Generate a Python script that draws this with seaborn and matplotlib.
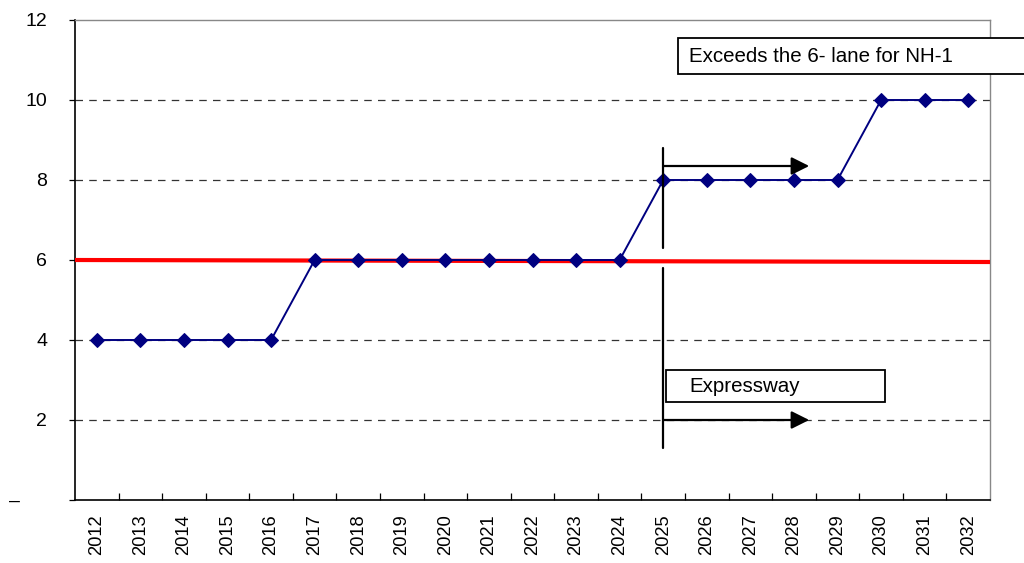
import matplotlib
matplotlib.use("Agg")
import matplotlib.pyplot as plt
from matplotlib.patches import Rectangle
import seaborn as sns
import pandas as pd
import numpy as np

# Lane requirement by year
years = list(range(2012, 2033))
lanes = [4, 4, 4, 4, 4, 6, 6, 6, 6, 6, 6, 6, 6, 8, 8, 8, 8, 8, 10, 10, 10]

# 6-lane capacity line (left end, right end)
capacity_x = [2011.5, 2032.5]
capacity_y = [6.0, 5.95]

# Phase boundary and horizon arrows
phase_year = 2025
arrow_end_year = 2028.35
upper_arrow_y = 8.35
lower_arrow_y = 2.0
upper_bar = [6.3, 8.8]
lower_bar = [1.3, 5.8]

y_ticks = [0, 2, 4, 6, 8, 10, 12]
y_labels = ["–     ", "2", "4", "6", "8", "10", "12"]

df = pd.DataFrame({"year": years, "lanes": lanes})

sns.set_theme(style="white")
plt.rcParams["font.family"] = ["Liberation Sans", "DejaVu Sans"]
plt.rcParams["text.color"] = "black"
plt.rcParams["xtick.color"] = "black"
plt.rcParams["ytick.color"] = "black"

fig = plt.figure(figsize=(10.24, 5.63), dpi=100)
ax = fig.add_axes([75 / 1024, 1 - 500 / 563, 915 / 1024, 480 / 563])

# Dashed horizontal grid
for y in [2, 4, 8, 10]:
    ax.axhline(y, color="#333333", lw=0.9, ls=(0, (6, 5)), zorder=1)

sns.lineplot(data=df, x="year", y="lanes", ax=ax, color="#000080", lw=1.4,
             marker="D", markersize=7, markeredgecolor="#000080", zorder=4)

ax.plot(capacity_x, capacity_y, color="#ff0000", lw=3, zorder=3)

# Phase boundary bars
ax.plot([phase_year, phase_year], upper_bar, color="black", lw=1.6, zorder=5)
ax.plot([phase_year, phase_year], lower_bar, color="black", lw=1.6, zorder=5)

for ay in [upper_arrow_y, lower_arrow_y]:
    ax.annotate("", xy=(arrow_end_year, ay), xytext=(phase_year, ay),
                arrowprops=dict(arrowstyle="-|>,head_length=0.9,head_width=0.45",
                                color="black", lw=1.6, shrinkA=0, shrinkB=0),
                zorder=6)

# Text boxes
ax.add_patch(Rectangle((2025.35, 10.65), 8.2, 0.9, transform=ax.transData,
                       facecolor="white", edgecolor="black", lw=1.3,
                       clip_on=False, zorder=7))
ax.text(2025.6, 11.1, "Exceeds the 6- lane for NH-1", fontsize=14.8,
        color="black", va="center", ha="left", zorder=8)
ax.add_patch(Rectangle((2025.06, 2.45), 5.02, 0.8, transform=ax.transData,
                       facecolor="white", edgecolor="black", lw=1.3,
                       clip_on=False, zorder=7))
ax.text(2025.6, 2.85, "Expressway", fontsize=14.8, color="black",
        va="center", ha="left", zorder=8)

ax.set_xlim(2011.5, 2032.5)
ax.set_ylim(0, 12)
ax.set_yticks(y_ticks)
ax.set_yticklabels(y_labels)
ax.set_xticks(years)
ax.set_xticklabels([str(y) for y in years], rotation=90, fontsize=13.2)
ax.set_xticks(np.arange(2012.5, 2032.5, 1.0), minor=True)
ax.tick_params(axis="x", which="major", length=0, pad=10, labelcolor="black")
ax.tick_params(axis="x", which="minor", direction="in", length=5, width=0.9,
               color="black", bottom=True)
ax.tick_params(axis="y", which="major", direction="out", length=4, width=0.9,
               pad=16, labelsize=14, color="black", labelcolor="black", left=True)
ax.set_xlabel("")
ax.set_ylabel("")

for side in ["left", "bottom"]:
    ax.spines[side].set_color("black")
    ax.spines[side].set_linewidth(1.2)
for side in ["top", "right"]:
    ax.spines[side].set_color("#888888")
    ax.spines[side].set_linewidth(1.0)

fig.savefig("out.png", dpi=100)
